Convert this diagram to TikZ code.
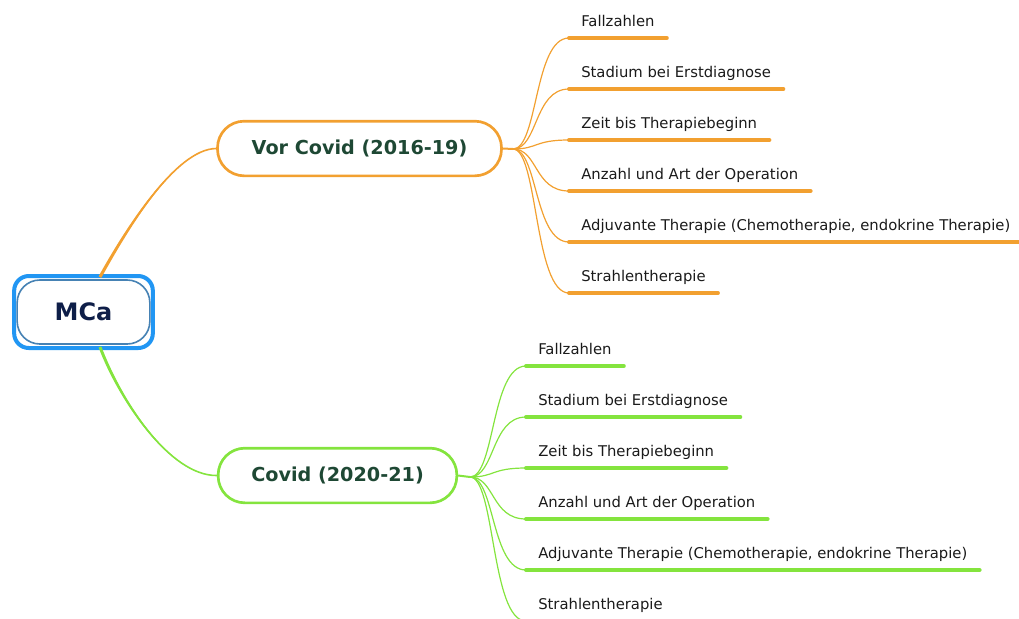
\documentclass[tikz,border=0pt]{standalone}
\usepackage{fontspec}
\setmainfont{DejaVu Sans}
\usepackage{tikz}
\definecolor{vorline}{RGB}{242,160,48}
\definecolor{covline}{RGB}{132,228,62}
\definecolor{mcablue}{RGB}{33,150,243}
\definecolor{mcainner}{RGB}{70,130,180}
\definecolor{mcatext}{RGB}{14,30,72}
\definecolor{branchtext}{RGB}{30,72,52}
\definecolor{itemtext}{RGB}{26,26,26}

\begin{document}
\begin{tikzpicture}[x=0.75pt,y=-0.75pt,
    mcabox/.style={draw=mcablue, line width=3pt, rounded corners=11pt, fill=white,
      minimum width=104pt, minimum height=54pt, font=\bfseries\fontsize{18}{22}\selectfont, text=mcatext},
    branch/.style={line width=2pt, rounded corners=20pt, fill=white, minimum height=41pt,
      font=\bfseries\fontsize{14.4}{17}\selectfont, text=branchtext},
    item/.style={anchor=south west, inner xsep=9pt, inner ysep=5.45pt, text height=8.5pt, text depth=2.8pt,
      font=\fontsize{11.1}{13}\selectfont, text=itemtext},
    uline/.style={line width=3pt, line cap=round},
    fan/.style={line width=0.9pt}]
  \useasboundingbox (0,0) rectangle (1019,618);
  % main nodes
  \node[mcabox] (mca) at (83.5,312) {MCa};
  \draw[mcainner, line width=1.2pt, rounded corners=17pt] ([shift={(5,6)}]mca.north west) rectangle ([shift={(-5,-6)}]mca.south east);
  \node[branch, draw=vorline, minimum width=213pt] (vor) at (359.5,148.5) {Vor Covid (2016-19)};
  \node[branch, draw=covline, minimum width=179pt] (cov) at (337.5,475.5) {Covid (2020-21)};
  \coordinate (mcatop) at (100,277);
  \coordinate (mcabot) at (100,347);
  % tapered main connectors
  \fill[vorline] (98.6,276.3) .. controls (123.6,231.3) and (175,148.6) .. (vor.west)
    .. controls (175,149.4) and (126.4,232.7) .. (101.4,277.7) -- cycle;
  \draw[vorline, line width=1.2pt] (mcatop) .. controls (125,232) and (175,149) .. (vor.west);
  \fill[covline] (98.6,347.5) .. controls (118.6,400.5) and (170,476.4) .. (cov.west)
    .. controls (170,475.6) and (121.4,399.5) .. (101.4,346.5) -- cycle;
  \draw[covline, line width=1.2pt] (mcabot) .. controls (120,400) and (170,476) .. (cov.west);
  % hubs
  \coordinate (vorhub) at (513,149);
  \coordinate (covhub) at (470,477);
  \draw[vorline, line width=1.5pt] (vor.east) -- (vorhub);
  \draw[covline, line width=1.5pt] (cov.east) -- (covhub);
  % sub items
  \foreach \txt [count=\i] in {Fallzahlen, Stadium bei Erstdiagnose, Zeit bis Therapiebeginn,
      Anzahl und Art der Operation, {Adjuvante Therapie (Chemotherapie, endokrine Therapie)}, Strahlentherapie} {
    \node[item] (vor\i) at (569, {38 + 51*(\i-1)}) {\txt};
    \draw[uline, vorline] (vor\i.south west) -- (vor\i.south east);
    \draw[fan, vorline] (vorhub) .. controls +(25,0) and +(-35,0) .. (vor\i.south west);
    \node[item] (cov\i) at (526, {366 + 51*(\i-1)}) {\txt};
    \draw[uline, covline] (cov\i.south west) -- (cov\i.south east);
    \draw[fan, covline] (covhub) .. controls +(25,0) and +(-35,0) .. (cov\i.south west);
  }
\end{tikzpicture}
\end{document}
